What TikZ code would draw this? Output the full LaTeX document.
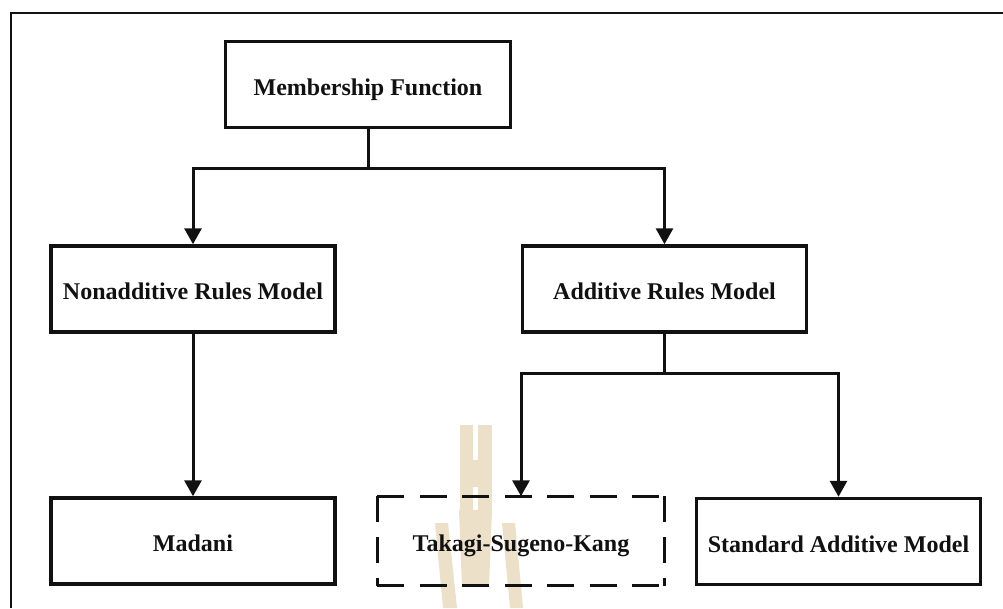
\documentclass[tikz,border=0pt]{standalone}
\usepackage{fontspec}
\setmainfont{Liberation Serif}
\usetikzlibrary{arrows.meta}
\definecolor{ink}{RGB}{17,17,17}
\definecolor{crest}{RGB}{236,224,200}
\begin{document}
\begin{tikzpicture}[x=1pt,y=-1pt,
  box/.style={draw=ink, line width=3.5pt, rectangle, inner sep=0pt,
    minimum width=284pt, minimum height=86pt, text height=21.5pt, text depth=0pt,
    font=\fontsize{24}{28}\selectfont\bfseries, text=ink},
  dashbox/.style={box, draw=none},
  dashside/.style={draw=ink, line width=3pt, dash pattern=on 26pt off 15pt},
  link/.style={draw=ink, line width=3pt},
  arr/.style={link, -{Triangle[width=17pt,length=16pt]}}]
\useasboundingbox (0,0) rectangle (1003,608);
\fill[white] (0,0) rectangle (1003,608);

% page frame
\draw[ink, line width=2pt] (10.5,608) -- (10.5,13) -- (1003,13);

% faint crest behind the lower row
\begin{scope}[crest]
  \fill (460,425) rectangle (473.3,510);
  \fill (478.3,425) rectangle (491.7,510);
  \fill (473,460) rectangle (478.5,487);
  \fill (459,510) -- (492,510) -- (489,587) -- (462,587) -- cycle;
  \fill (435,523) -- (448,523) -- (457,608) -- (443,608) -- cycle;
  \fill (502,523) -- (515,523) -- (523,608) -- (510,608) -- cycle;
\end{scope}

% boxes
\node[box, minimum width=285pt] (mf) at (368,84.5) {Membership Function};
\node[box] (nonadd) at (193,289) {Nonadditive Rules Model};
\node[box] (add) at (664.5,289) {Additive Rules Model};
\node[box] (madani) at (193,541) {Madani};
\node[dashbox] (tsk) at (521,541) {Takagi-Sugeno-Kang};
\node[box] (sam) at (838.5,541.5) {Standard Additive Model};

% dashed outline of the Takagi-Sugeno-Kang box, each side from its corners
\draw[dashside, dash pattern=on 27pt off 15.5pt] (tsk.north west) -- (tsk.north east);
\draw[dashside, dash pattern=on 27pt off 15.5pt] (tsk.south west) -- (tsk.south east);
\draw[dashside] (tsk.north west) -- (tsk.south west);
\draw[dashside] (tsk.north east) -- (tsk.south east);

% junctions
\coordinate (j1) at (368,168);
\coordinate (j2) at (664.5,373);

% connectors
\draw[link] (mf.south) -- (j1);
\draw[arr] (j1) -| (nonadd.north);
\draw[arr] (j1) -| (add.north);
\draw[arr] (nonadd.south) -- (madani.north);
\draw[link] (add.south) -- (j2);
\draw[arr] (j2) -| (tsk.north);
\draw[arr] (j2) -| (sam.north);
\end{tikzpicture}
\end{document}
